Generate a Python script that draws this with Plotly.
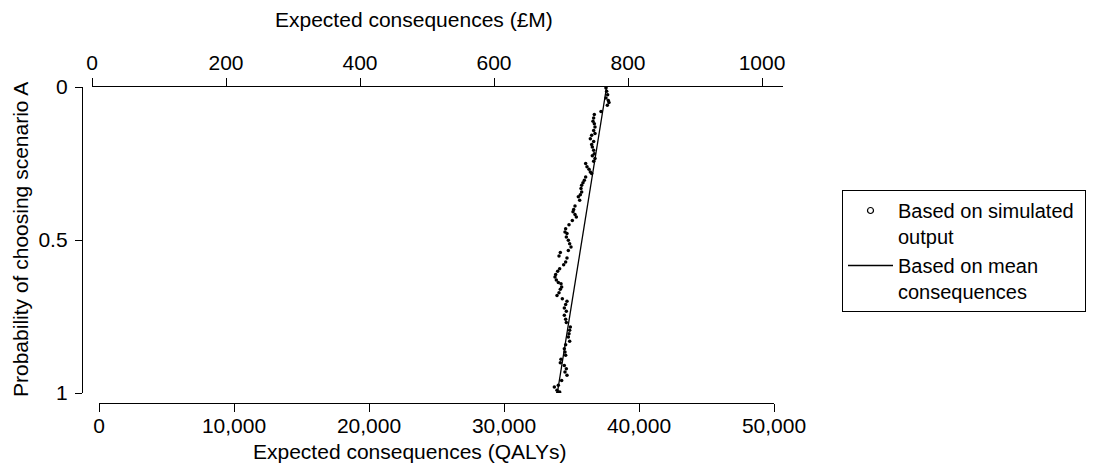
import plotly.graph_objects as go

# Simulated output: expected consequences (QALYs) vs probability of choosing scenario A
sim_qalys = [37555, 37604, 37678, 37555, 37728, 37777, 37654, 37185, 36691, 36641,
             36592, 36691, 36740, 36641, 36740, 36493, 36395, 36641, 36493, 36543,
             36641, 36691, 36543, 36740, 36641, 36049, 36148, 36296, 36395, 36493,
             36049, 35950, 35851, 35753, 35703, 35753, 35654, 35506, 35605, 35259,
             35160, 35111, 35259, 35358, 35061, 34814, 34567, 34518, 34666, 34617,
             34765, 34864, 34963, 34765, 34172, 34074, 34666, 34567, 34419, 34123,
             33975, 33827, 33777, 33876, 34024, 34222, 34271, 34172, 34074, 33926,
             34321, 34666, 34567, 34469, 34617, 34469, 34567, 34617, 34913, 34864,
             34814, 34765, 34864, 34567, 34469, 34518, 34567, 34222, 34172, 34469,
             34617, 34518, 34666, 34271, 34024, 33728, 33926, 34123, 33975]
sim_prob = [0.003, 0.014, 0.025, 0.036, 0.044, 0.051, 0.060, 0.080, 0.090, 0.101,
            0.112, 0.120, 0.131, 0.142, 0.152, 0.158, 0.169, 0.178, 0.188, 0.196,
            0.207, 0.218, 0.225, 0.234, 0.243, 0.250, 0.261, 0.269, 0.278, 0.283,
            0.294, 0.305, 0.313, 0.321, 0.332, 0.343, 0.352, 0.359, 0.370, 0.389,
            0.400, 0.408, 0.417, 0.425, 0.436, 0.450, 0.463, 0.474, 0.479, 0.490,
            0.501, 0.512, 0.523, 0.534, 0.541, 0.552, 0.559, 0.572, 0.581, 0.594,
            0.602, 0.613, 0.621, 0.631, 0.639, 0.643, 0.654, 0.661, 0.672, 0.681,
            0.692, 0.700, 0.711, 0.722, 0.733, 0.746, 0.759, 0.770, 0.784, 0.795,
            0.806, 0.817, 0.831, 0.842, 0.855, 0.866, 0.877, 0.890, 0.901, 0.910,
            0.921, 0.931, 0.942, 0.959, 0.975, 0.980, 0.991, 0.997, 1.000]

# Mean consequences line
mean_qalys = [37600, 33950]
mean_prob = [0.0, 1.0]

# Axis ticks
qaly_ticks = [0, 10000, 20000, 30000, 40000, 50000]
qaly_labels = ["0", "10,000", "20,000", "30,000", "40,000", "50,000"]
gbp_ticks = [0, 200, 400, 600, 800, 1000]
gbp_labels = ["0", "200", "400", "600", "800", "1000"]
prob_ticks = [0, 0.5, 1]
prob_labels = ["0", "0.5", "1"]

FONT = "Liberation Sans, Arial, Helvetica, sans-serif"
FS = 21

fig = go.Figure()

fig.add_trace(go.Scatter(
    x=sim_qalys, y=sim_prob, mode="markers",
    marker=dict(color="black", size=3.5, symbol="circle"),
    showlegend=False, xaxis="x", yaxis="y"))

fig.add_trace(go.Scatter(
    x=[None], y=[None], mode="markers",
    marker=dict(color="black", size=6, symbol="circle-open", line=dict(width=1.2, color="black")),
    name="Based on simulated&nbsp;<br>output", xaxis="x", yaxis="y"))

fig.add_trace(go.Scatter(
    x=mean_qalys, y=mean_prob, mode="lines",
    line=dict(color="black", width=1.3),
    name="Based on mean<br>consequences", xaxis="x", yaxis="y"))

# empty trace to create the top (£M) axis subplot
fig.add_trace(go.Scatter(x=[None], y=[None], mode="markers", showlegend=False,
                         hoverinfo="skip", xaxis="x2", yaxis="y"))

# page body has an 8px margin: work in page pixels and subtract it
O = 8
W, H = 1097 - O, 471 - O
L, R, T, B = 82 - O, 783 - O, 86 - O, 403 - O
pw, ph = R - L, B - T


def px(xp):
    return (xp - O - L) / pw


def py(yp):
    return (B - (yp - O)) / ph


axis_common = dict(showline=True, linecolor="black", linewidth=1.3, ticks="outside",
                   tickcolor="black", tickwidth=1.3, showgrid=False, zeroline=False,
                   tickfont=dict(family=FONT, size=FS, color="black"))

fig.update_layout(
    width=W, height=H,
    margin=dict(l=L, r=W - R, t=T, b=H - B, pad=0, autoexpand=False),
    paper_bgcolor="white", plot_bgcolor="rgba(0,0,0,0)",
    font=dict(family=FONT, size=FS, color="black"),
    xaxis=dict(domain=[px(99), px(774)], range=[0, 50000],
               anchor="free", position=0, side="bottom", ticklen=8, ticklabelstandoff=-4,
               tickmode="array", tickvals=qaly_ticks, ticktext=qaly_labels, **axis_common),
    xaxis2=dict(domain=[px(92), 1], range=[0, (783 - 92) / 134 * 200],
                anchor="free", position=1, side="top", ticklen=8, ticklabelstandoff=-1,
                tickmode="array", tickvals=gbp_ticks, ticktext=gbp_labels, **axis_common),
    yaxis=dict(domain=[py(393), py(87)], range=[1, 0],
               anchor="free", position=0, ticklen=7, ticklabelstandoff=3,
               tickmode="array", tickvals=prob_ticks, ticktext=prob_labels, **axis_common),
    legend=dict(x=px(842), y=py(190), xanchor="left", yanchor="top",
                bordercolor="black", borderwidth=1, bgcolor="white",
                font=dict(family=FONT, size=20, color="black"),
                itemwidth=45, valign="top", traceorder="normal", tracegroupgap=0),
    showlegend=True,
    annotations=[
        dict(text="Expected consequences (£M)", x=px(414), y=py(20),
             xref="paper", yref="paper", showarrow=False, xanchor="center", yanchor="middle",
             font=dict(family=FONT, size=FS, color="black")),
        dict(text="Expected consequences (QALYs)", x=px(410), y=py(451),
             xref="paper", yref="paper", showarrow=False, xanchor="center", yanchor="middle",
             font=dict(family=FONT, size=FS, color="black")),
        dict(text="Probability of choosing scenario A", x=px(20), y=py(240),
             xref="paper", yref="paper", showarrow=False, xanchor="center", yanchor="middle",
             textangle=-90, font=dict(family=FONT, size=FS, color="black")),
    ],
)

fig.write_html("out.html")
